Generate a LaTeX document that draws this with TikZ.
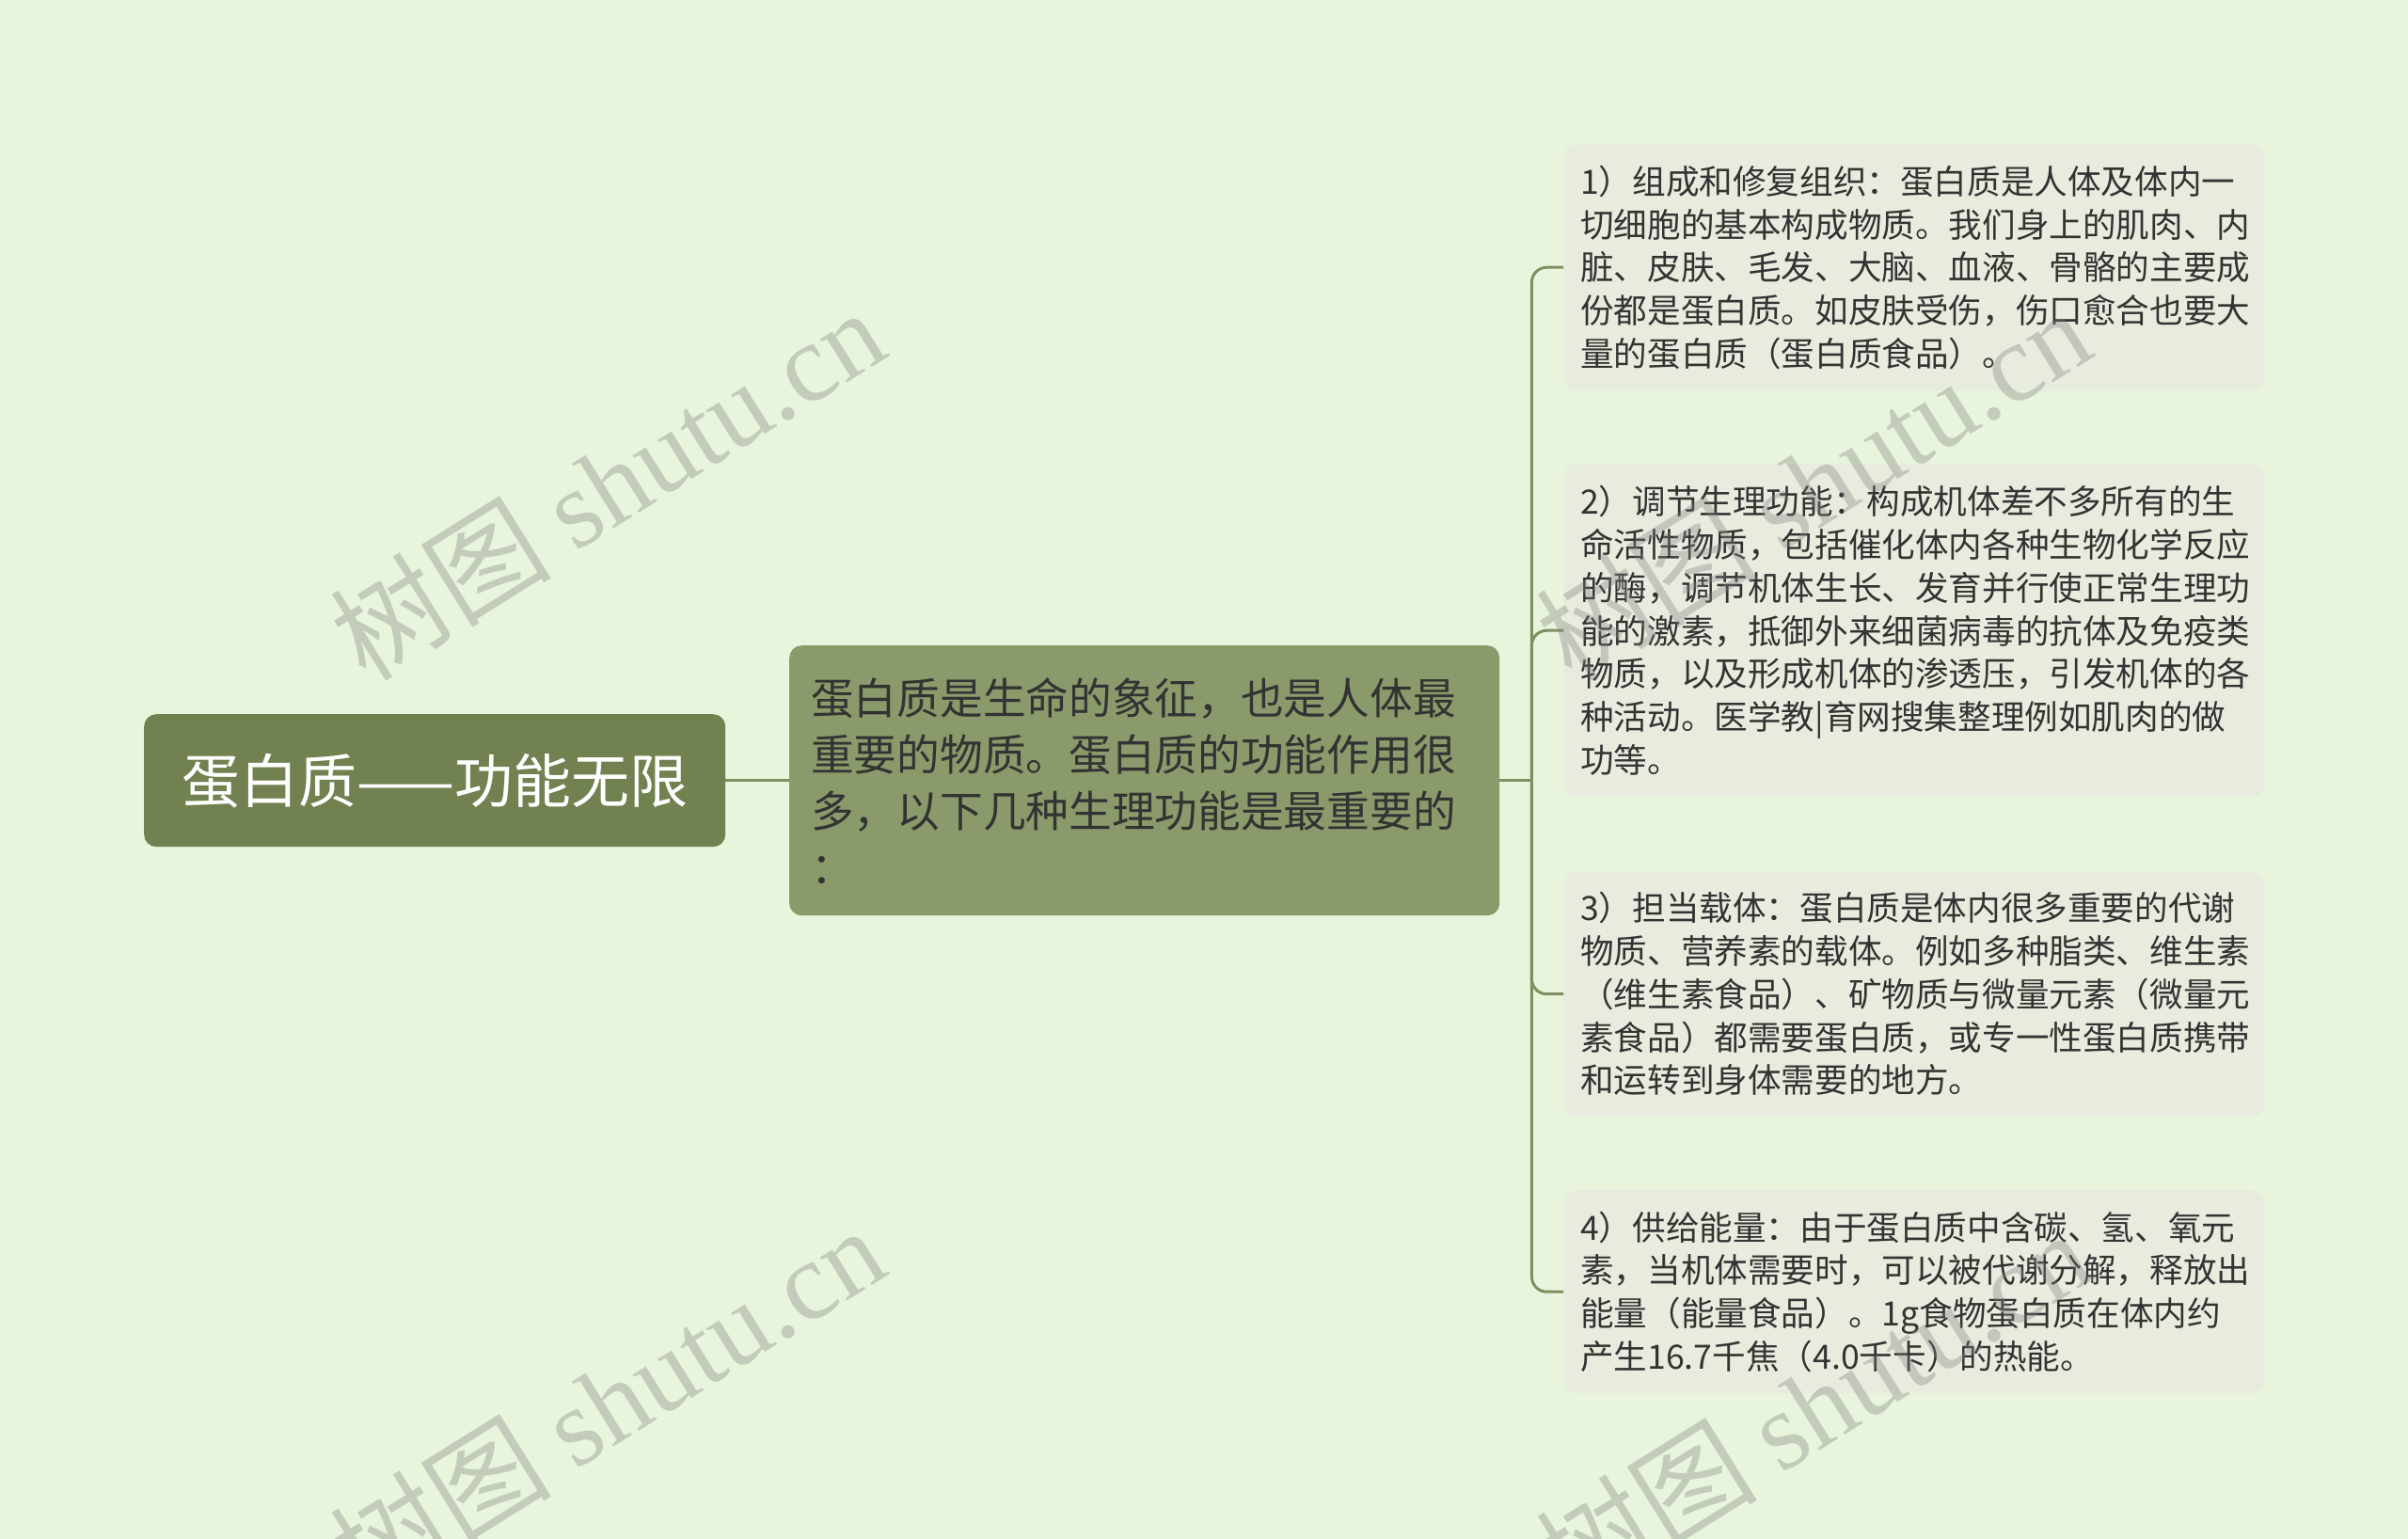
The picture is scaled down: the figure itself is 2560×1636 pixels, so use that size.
\documentclass[tikz,border=0pt]{standalone}
\usepackage{fontspec}
\setmainfont{Noto Sans CJK SC}
\newfontfamily\markfont{Liberation Serif}
\usepackage{xcolor}
\usetikzlibrary{positioning}
\definecolor{bgcol}{HTML}{E8F5DC}
\definecolor{rootcol}{HTML}{728150}
\definecolor{topiccol}{HTML}{8A9A6B}
\definecolor{leafcol}{HTML}{E8ECDF}
\definecolor{linkcol}{HTML}{7F9060}
\definecolor{inkcol}{HTML}{333333}
\tikzset{
    rootbox/.style={
        rectangle,
        rounded corners=13pt,
        fill=rootcol,
        text=white,
        minimum width=618pt,
        minimum height=141pt,
        inner sep=0pt,
        font=\fontsize{62}{70}\selectfont,
    },
    topicbox/.style={
        rectangle,
        rounded corners=13pt,
        fill=topiccol,
        text=inkcol,
        text width=709pt,
        inner xsep=23pt,
        minimum height=287pt,
        align=left,
        font=\fontsize{45.7}{60}\selectfont,
    },
    leafbox/.style={
        rectangle,
        rounded corners=13pt,
        fill=leafcol,
        text=inkcol,
        text width=709pt,
        inner xsep=18pt,
        align=left,
        font=\fontsize{35.6}{45.7}\selectfont,
    },
    link/.style={
        draw=linkcol,
        line width=3pt,
    },
    watermark/.style={
        text=gray,
        opacity=0.35,
        rotate=32,
        font=\fontsize{118}{120}\selectfont,
    },
}
\begin{document}
\begin{tikzpicture}[x=1pt,y=-1pt]
    \fill[bgcol] (0,0) rectangle (2560,1636);
    \useasboundingbox (0,0) rectangle (2560,1636);

    \node [rootbox, anchor=north west] (root) at (153,759) {蛋白质——功能无限};
    \node [topicbox, anchor=north west] (topic) at (839,686)
        {蛋白质是生命的象征，也是人体最\\重要的物质。蛋白质的功能作用很\\多，以下几种生理功能是最重要的\\：};

    \node [leafbox, anchor=north west, minimum height=262pt] (leaf1) at (1662,153)
        {1）组成和修复组织：蛋白质是人体及体内一\\切细胞的基本构成物质。我们身上的肌肉、内\\脏、皮肤、毛发、大脑、血液、骨骼的主要成\\份都是蛋白质。如皮肤受伤，伤口愈合也要大\\量的蛋白质（蛋白质食品）。};
    \node [leafbox, anchor=north west, minimum height=354pt] (leaf2) at (1662,493)
        {2）调节生理功能：构成机体差不多所有的生\\命活性物质，包括催化体内各种生物化学反应\\的酶，调节机体生长、发育并行使正常生理功\\能的激素，抵御外来细菌病毒的抗体及免疫类\\物质，以及形成机体的渗透压，引发机体的各\\种活动。医学教|育网搜集整理例如肌肉的做\\功等。};
    \node [leafbox, anchor=north west, minimum height=261pt] (leaf3) at (1662,926)
        {3）担当载体：蛋白质是体内很多重要的代谢\\物质、营养素的载体。例如多种脂类、维生素\\（维生素食品）、矿物质与微量元素（微量元\\素食品）都需要蛋白质，或专一性蛋白质携带\\和运转到身体需要的地方。};
    \node [leafbox, anchor=north west, minimum height=216pt] (leaf4) at (1662,1265)
        {4）供给能量：由于蛋白质中含碳、氢、氧元\\素，当机体需要时，可以被代谢分解，释放出\\能量（能量食品）。1g食物蛋白质在体内约\\产生16.7千焦（4.0千卡）的热能。};

    % connectors
    \draw[link] (root.east) -- (topic.west);
    \coordinate[right=34pt of topic.east] (fork);
    \draw[link] (topic.east) -- (fork);
    \foreach \leaf in {leaf1,leaf2,leaf3,leaf4}
        \draw[link, rounded corners=16pt] (fork) |- (\leaf.west);

    % watermarks
    \node [watermark] (mark1) at (645,514) {树图 {\markfont shutu.cn}};
    \node [watermark] (mark2) at (645,1490) {树图 {\markfont shutu.cn}};
    \node [watermark] (mark3) at (1927,514) {树图 {\markfont shutu.cn}};
    \node [watermark] (mark4) at (1927,1494) {树图 {\markfont shutu.cn}};
\end{tikzpicture}
\end{document}
